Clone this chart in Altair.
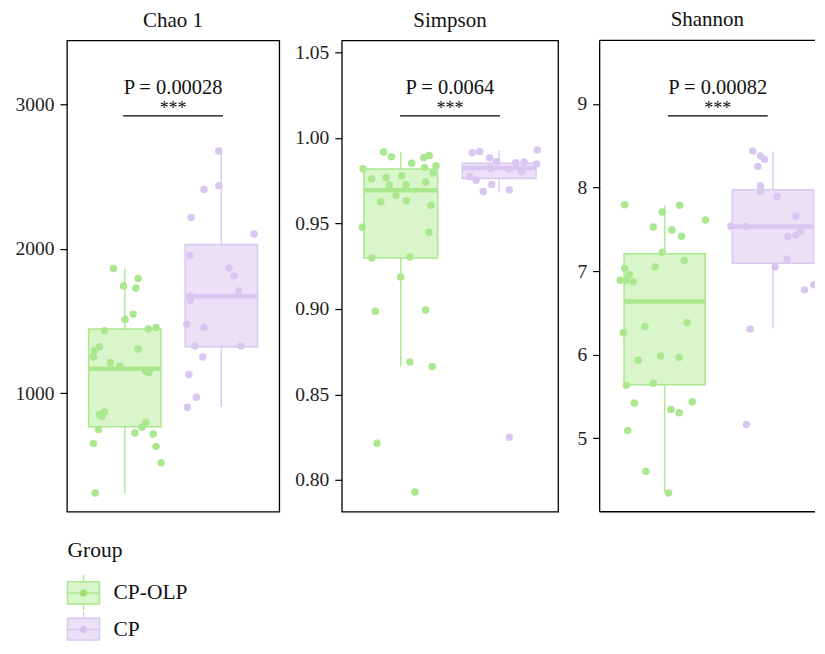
import altair as alt
import pandas as pd

groups = ["CP-OLP", "CP"]
metrics = ["Chao 1", "Simpson", "Shannon"]
p_labels = ["P = 0.00028", "P = 0.0064", "P = 0.00082"]
stars = ["***", "***", "***"]

# ---- Chao 1 ----
chao_olp_jit = [-0.118, 0.138, -0.014, 0.114, 0.086, 0.003, -0.211, 0.244, 0.324, -0.263,
                -0.315, -0.325, 0.138, -0.149, -0.052, 0.217, 0.252, -0.263, -0.211, -0.238,
                -0.273, 0.104, 0.176, 0.217, -0.325, 0.293, 0.324, 0.376, -0.307]
chao_olp_val = [1864, 1795, 1742, 1729, 1548, 1511, 1433, 1445, 1456, 1323,
                1296, 1254, 1307, 1213, 1190, 1153, 1144, 854, 871, 842,
                751, 727, 766, 801, 654, 720, 634, 521, 311]
chao_cp_jit = [-0.027, -0.027, -0.179, -0.314, 0.339, -0.324, 0.080, 0.135, 0.180, -0.314,
               -0.321, -0.358, -0.182, -0.275, 0.204, -0.193, -0.337, -0.259, -0.352]
chao_cp_val = [2675, 2436, 2409, 2216, 2102, 1953, 1866, 1814, 1708, 1671,
               1644, 1476, 1456, 1328, 1328, 1252, 1131, 973, 904]
# lo, q1, median, q3, hi
chao_box_olp = [311, 769, 1170, 1445, 1861]
chao_box_cp = [906, 1323, 1671, 2029, 2675]

# ---- Simpson ----
simp_olp_jit = [-0.174, -0.096, 0.111, 0.233, 0.289, -0.384, 0.243, 0.358, 0.327, -0.296,
                -0.150, 0.009, -0.117, 0.053, 0.253, -0.049, -0.204, 0.056, 0.307, -0.391,
                0.286, -0.296, 0.090, -0.001, -0.259, 0.253, 0.093, 0.320, -0.242, 0.144]
simp_olp_val = [0.9917, 0.9890, 0.9851, 0.9884, 0.9897, 0.9820, 0.9827, 0.9837, 0.9795, 0.9760,
                0.9767, 0.9777, 0.9723, 0.9727, 0.9742, 0.9663, 0.9626, 0.9632, 0.9606, 0.9477,
                0.9448, 0.9298, 0.9304, 0.9186, 0.8987, 0.8994, 0.8690, 0.8663, 0.8215, 0.7929]
simp_cp_jit = [-0.273, -0.198, -0.096, -0.025, 0.387, 0.168, 0.255, 0.381, -0.086, 0.103,
               0.232, -0.300, -0.233, -0.076, -0.162, 0.103, 0.103]
simp_cp_val = [0.9913, 0.9920, 0.9884, 0.9862, 0.9929, 0.9855, 0.9859, 0.9847, 0.9822, 0.9816,
               0.9802, 0.9773, 0.9752, 0.9727, 0.9686, 0.9696, 0.8250]
simp_box_olp = [0.8663, 0.9297, 0.9694, 0.9818, 0.9917]
simp_box_cp = [0.9682, 0.9763, 0.9824, 0.9851, 0.9924]

# ---- Shannon ----
shan_olp_jit = [-0.369, 0.138, -0.022, 0.378, -0.105, 0.067, 0.157, -0.022, -0.369, 0.181,
                -0.087, -0.327, -0.410, -0.354, -0.290, -0.182, 0.208, -0.382, -0.244, -0.037,
                0.135, -0.354, -0.105, -0.280, 0.058, 0.135, 0.255, -0.341, -0.173, 0.037]
shan_olp_val = [7.794, 7.786, 7.706, 7.611, 7.527, 7.492, 7.417, 7.226, 7.032, 7.127,
                7.048, 6.956, 6.889, 6.889, 6.873, 6.337, 6.381, 6.262, 5.932, 5.985,
                5.968, 5.635, 5.658, 5.420, 5.345, 5.306, 5.437, 5.092, 4.604, 4.345]
shan_cp_jit = [-0.185, -0.114, -0.077, -0.139, -0.114, -0.114, 0.039, -0.388, -0.253, 0.211,
               0.137, 0.211, 0.257, 0.131, 0.020, 0.292, 0.377, -0.210, -0.244]
shan_cp_val = [8.437, 8.377, 8.337, 8.250, 8.020, 7.952, 7.889, 7.536, 7.536, 7.655,
               7.413, 7.429, 7.473, 7.143, 7.048, 6.777, 6.837, 6.306, 5.163]
shan_box_olp = [4.357, 5.639, 6.635, 7.206, 7.782]
shan_box_cp = [6.313, 7.092, 7.532, 7.973, 8.429]

# ---- axes ----
chao_ticks = [1000, 2000, 3000]
simp_ticks = [0.80, 0.85, 0.90, 0.95, 1.00, 1.05]
shan_ticks = [5, 6, 7, 8, 9]

# ---- style ----
FONT = "Liberation Serif"
point_colors = ["#9fe070", "#d6c0f0"]
fill_colors = ["#d9f6cb", "#ebe1f7"]
stroke_colors = ["#aae78e", "#d9c7f2"]
PLOT_H = 472
LEG_H = 106


def points_df(jit_a, val_a, jit_b, val_b):
    rows = []
    for j, v in zip(jit_a, val_a):
        rows.append({"group": groups[0], "pos": 1 + j, "value": v})
    for j, v in zip(jit_b, val_b):
        rows.append({"group": groups[1], "pos": 2 + j, "value": v})
    return pd.DataFrame(rows)


def box_df(box_a, box_b):
    rows = []
    for i, b in enumerate([box_a, box_b]):
        rows.append({"group": groups[i], "idx": i + 1, "lo": b[0], "q1": b[1],
                     "med": b[2], "q3": b[3], "hi": b[4]})
    return pd.DataFrame(rows)


def panel(title, pts, box, ydom, yticks, fmt, width, xmax, extent, plabel, star,
          bar_mid, open_right=False):
    xs = alt.Scale(domain=[0.4, xmax], nice=False, zero=False)
    ys = alt.Scale(domain=ydom, nice=False, zero=False)
    yaxis = alt.Axis(values=yticks, format=fmt, title=None, grid=False, domain=False,
                     tickSize=7, tickColor="black", tickWidth=1.2, labelFont=FONT,
                     labelFontSize=19.5, labelColor="#222", labelPadding=6,
                     minExtent=extent, maxExtent=extent)
    col_stroke = alt.Scale(domain=groups, range=stroke_colors)
    col_fill = alt.Scale(domain=groups, range=fill_colors)
    col_pt = alt.Scale(domain=groups, range=point_colors)

    bbase = alt.Chart(box).transform_calculate(
        xl="datum.idx - 0.375", xr="datum.idx + 0.375")

    whisk = bbase.mark_rule(strokeWidth=1.4).encode(
        x=alt.X("idx:Q", scale=xs, axis=None),
        y=alt.Y("lo:Q", scale=ys, axis=yaxis),
        y2="hi:Q",
        color=alt.Color("group:N", scale=col_stroke, legend=None),
    )
    rect = bbase.mark_rect(strokeWidth=1.5).encode(
        x=alt.X("xl:Q", scale=xs, axis=None),
        x2="xr:Q",
        y=alt.Y("q1:Q", scale=ys),
        y2="q3:Q",
        fill=alt.Fill("group:N", scale=col_fill, legend=None),
        stroke=alt.Stroke("group:N", scale=col_stroke, legend=None),
    )
    med = bbase.mark_rule(strokeWidth=4.5).encode(
        x=alt.X("xl:Q", scale=xs, axis=None),
        x2="xr:Q",
        y=alt.Y("med:Q", scale=ys),
        color=alt.Color("group:N", scale=col_pt, legend=None),
    )
    pts_layer = alt.Chart(pts).mark_circle(size=56, opacity=1, clip=open_right).encode(
        x=alt.X("pos:Q", scale=xs, axis=None),
        y=alt.Y("value:Q", scale=ys),
        color=alt.Color("group:N", scale=col_pt, legend=None),
    )
    ann = pd.DataFrame({"p": [plabel], "s": [star]})
    bar = alt.Chart(ann).mark_rule(color="black", strokeWidth=1.3).encode(
        x=alt.value(bar_mid - 50), x2=alt.value(bar_mid + 50), y=alt.value(75.6))
    ptext = alt.Chart(ann).mark_text(font=FONT, fontSize=20.5, color="#111",
                                     baseline="alphabetic", align="center").encode(
        x=alt.value(bar_mid), y=alt.value(54), text="p:N")
    stext = alt.Chart(ann).mark_text(font=FONT, fontSize=18, color="#111",
                                     baseline="middle", align="center").encode(
        x=alt.value(bar_mid), y=alt.value(69), text="s:N")

    layers = [whisk, rect, med, pts_layer, bar, ptext, stext]
    props = dict(width=width, height=PLOT_H,
                 title=alt.TitleParams(text=title, font=FONT, fontSize=21,
                                       fontWeight="normal", color="#111", offset=9.3,
                                       anchor="middle"))
    if open_right:
        # the reference figure is cut at the window edge: no right-hand border
        fr = pd.DataFrame({"a": [0]})
        layers.append(alt.Chart(fr).mark_rule(color="black", strokeWidth=1.3).encode(
            x=alt.value(0), y=alt.value(0), y2=alt.value(PLOT_H)))
        layers.append(alt.Chart(fr).mark_rule(color="black", strokeWidth=1.3).encode(
            x=alt.value(0), x2=alt.value(width), y=alt.value(0)))
        layers.append(alt.Chart(fr).mark_rule(color="black", strokeWidth=1.3).encode(
            x=alt.value(0), x2=alt.value(width), y=alt.value(PLOT_H)))
        props["view"] = alt.ViewBackground(stroke="transparent")
    return alt.layer(*layers).properties(**props)


W3 = 215.6
p1 = panel(metrics[0], points_df(chao_olp_jit, chao_olp_val, chao_cp_jit, chao_cp_val),
           box_df(chao_box_olp, chao_box_cp), [182, 3440], chao_ticks, "d",
           212.6, 2.6, 57.4, p_labels[0], stars[0], 106.3)
p2 = panel(metrics[1], points_df(simp_olp_jit, simp_olp_val, simp_cp_jit, simp_cp_val),
           box_df(simp_box_olp, simp_box_cp), [0.7814, 1.057], simp_ticks, ".2f",
           216.6, 2.6, 58.4, p_labels[1], stars[1], 108.3)
p3 = panel(metrics[2], points_df(shan_olp_jit, shan_olp_val, shan_cp_jit, shan_cp_val),
           box_df(shan_box_olp, shan_box_cp), [4.12, 9.76], shan_ticks, "d",
           W3, 0.4 + W3 / 108.4, 37.4, p_labels[2], stars[2], 118.3, open_right=True)

top = alt.hconcat(p1, p2, p3, spacing=1.2).resolve_scale(x="independent", y="independent")

# ---- manual legend (pixel positions relative to first panel's left edge) ----
leg_layers = []
ltitle = alt.Chart(pd.DataFrame({"t": ["Group"]})).mark_text(
    font=FONT, fontSize=21.5, color="#111", align="left", baseline="alphabetic").encode(
    x=alt.value(0.6), y=alt.value(22), text="t:N")
leg_layers.append(ltitle)
legend_rows = [58.3, 95]
for i, g in enumerate(groups):
    cy = legend_rows[i]
    d = pd.DataFrame({"group": [g]})
    leg_layers.append(alt.Chart(d).mark_rule(color=stroke_colors[i], strokeWidth=1.3).encode(
        x=alt.value(16.6), y=alt.value(cy - 18), y2=alt.value(min(cy + 17, LEG_H))))
    leg_layers.append(alt.Chart(d).mark_rect(fill=fill_colors[i], stroke=stroke_colors[i],
                                             strokeWidth=1.5).encode(
        x=alt.value(0.6), x2=alt.value(32.6), y=alt.value(cy - 11.3),
        y2=alt.value(min(cy + 11, LEG_H - 0.5))))
    leg_layers.append(alt.Chart(d).mark_rule(color=stroke_colors[i], strokeWidth=1.5).encode(
        x=alt.value(0.6), x2=alt.value(32.6), y=alt.value(cy)))
    leg_layers.append(alt.Chart(d).mark_circle(size=50, opacity=1, color=point_colors[i]).encode(
        x=alt.value(16.6), y=alt.value(cy)))
    leg_layers.append(alt.Chart(d).mark_text(font=FONT, fontSize=21.5, color="#111",
                                             align="left", baseline="middle").encode(
        x=alt.value(46.6), y=alt.value(cy), text="group:N"))

legend = alt.layer(*leg_layers).properties(
    width=200, height=LEG_H, view=alt.ViewBackground(stroke="transparent"))

chart = alt.vconcat(top, legend, spacing=20).properties(
    padding=0, background="white"
).configure_view(stroke="black", strokeWidth=1.3)

chart.save("out.html", embed_options={"renderer": "svg", "actions": False})
